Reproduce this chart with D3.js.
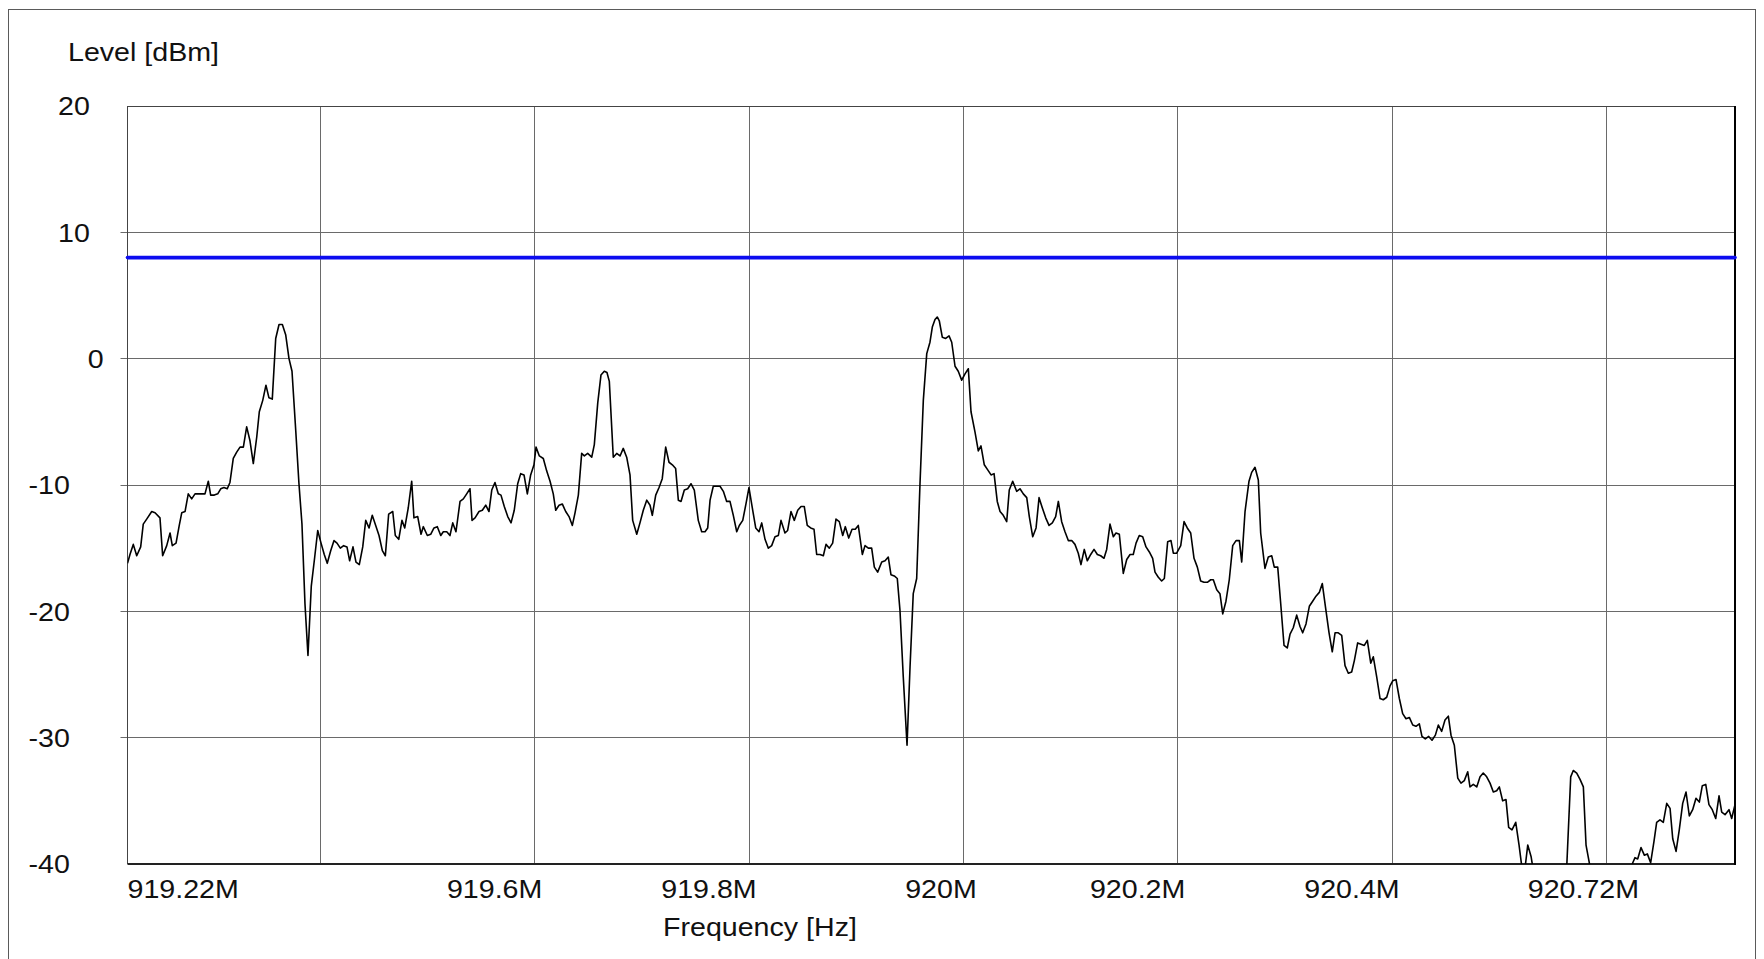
<!DOCTYPE html>
<html>
<head>
<meta charset="utf-8">
<title>Spectrum trace</title>
<script src="https://cdn.jsdelivr.net/npm/d3@7"></script>
<style>
  html, body { margin: 0; padding: 0; background: #ffffff; }
  svg { display: block; }
  text { font-family: "Liberation Sans", Arial, Helvetica, sans-serif; font-size: 26px; fill: #111111; }
</style>
</head>
<body>
<svg id="chart" width="1764" height="959"></svg>
<script>
// Measured spectrum trace: frequency (MHz) and level (dBm)
const freqMHz = [
  919.2200,919.2223,919.2254,919.2286,919.2323,919.2347,919.2379,919.2426,919.2457,919.2503,
  919.2528,919.2566,919.2597,919.2618,919.2653,919.2683,919.2706,919.2737,919.2767,919.2799,
  919.2830,919.2861,919.2892,919.2923,919.2954,919.2976,919.3010,919.3042,919.3070,919.3100,
  919.3131,919.3156,919.3187,919.3219,919.3250,919.3281,919.3312,919.3343,919.3374,919.3406,
  919.3430,919.3462,919.3492,919.3520,919.3551,919.3583,919.3614,919.3645,919.3676,919.3707,
  919.3735,919.3770,919.3800,919.3828,919.3856,919.3884,919.3915,919.3947,919.3975,919.4006,
  919.4036,919.4064,919.4096,919.4127,919.4155,919.4186,919.4217,919.4248,919.4273,919.4304,
  919.4332,919.4363,919.4395,919.4423,919.4454,919.4484,919.4516,919.4547,919.4578,919.4606,
  919.4637,919.4675,919.4699,919.4731,919.4761,919.4787,919.4820,919.4852,919.4873,919.4908,
  919.4939,919.4960,919.4998,919.5029,919.5060,919.5091,919.5123,919.5147,919.5179,919.5209,
  919.5235,919.5265,919.5303,919.5334,919.5365,919.5396,919.5415,919.5443,919.5480,919.5511,
  919.5543,919.5573,919.5599,919.5629,919.5660,919.5685,919.5716,919.5748,919.5779,919.5809,
  919.5841,919.5869,919.5900,919.5931,919.5962,919.5993,919.6012,919.6043,919.6080,919.6112,
  919.6143,919.6173,919.6196,919.6227,919.6257,919.6289,919.6320,919.6351,919.6376,919.6407,
  919.6438,919.6463,919.6494,919.6532,919.6556,919.6588,919.6618,919.6649,919.6674,919.6696,
  919.6733,919.6765,919.6796,919.6826,919.6858,919.6889,919.6914,919.6952,919.6982,919.7013,
  919.7045,919.7076,919.7097,919.7129,919.7160,919.7190,919.7222,919.7253,919.7284,919.7315,
  919.7340,919.7365,919.7396,919.7427,919.7458,919.7489,919.7526,919.7558,919.7589,919.7614,
  919.7636,919.7666,919.7698,919.7729,919.7760,919.7791,919.7822,919.7853,919.7885,919.7909,
  919.7941,919.7971,919.7999,919.8030,919.8062,919.8093,919.8118,919.8149,919.8180,919.8211,
  919.8242,919.8273,919.8298,919.8335,919.8360,919.8391,919.8422,919.8454,919.8485,919.8515,
  919.8543,919.8575,919.8606,919.8631,919.8662,919.8693,919.8718,919.8749,919.8780,919.8811,
  919.8842,919.8874,919.8898,919.8930,919.8961,919.8991,919.9019,919.9057,919.9082,919.9113,
  919.9144,919.9169,919.9200,919.9238,919.9269,919.9299,919.9324,919.9355,919.9383,919.9408,
  919.9439,919.9474,919.9502,919.9532,919.9564,919.9595,919.9626,919.9658,919.9688,919.9710,
  919.9735,919.9756,919.9775,919.9803,919.9835,919.9866,919.9891,919.9922,919.9952,919.9984,
  920.0015,920.0046,920.0071,920.0108,920.0139,920.0164,920.0195,920.0227,920.0258,920.0286,
  920.0316,920.0342,
  920.0372,920.0404,920.0428,920.0460,920.0497,920.0528,920.0559,920.0591,920.0615,920.0647,
  920.0678,920.0706,920.0736,920.0768,920.0799,920.0830,920.0861,920.0886,920.0917,920.0948,
  920.0979,920.1011,920.1041,920.1072,920.1097,920.1128,920.1156,920.1188,920.1219,920.1250,
  920.1281,920.1312,920.1337,920.1368,920.1399,920.1424,920.1455,920.1492,920.1524,920.1555,
  920.1585,920.1611,920.1641,920.1673,920.1704,920.1735,920.1766,920.1788,920.1819,920.1850,
  920.1875,920.1906,920.1937,920.1959,920.1990,920.2028,920.2059,920.2089,920.2121,920.2152,
  920.2183,920.2214,920.2245,920.2276,920.2308,920.2332,920.2364,920.2394,920.2420,920.2450,
  920.2481,920.2513,920.2544,920.2575,920.2597,920.2628,920.2665,920.2690,920.2721,920.2752,
  920.2774,920.2814,920.2845,920.2877,920.2901,920.2933,
  920.2961,920.2992,920.3022,920.3048,920.3078,920.3110,920.3141,920.3166,920.3197,920.3228,
  920.3259,920.3290,920.3321,920.3349,920.3381,920.3412,920.3442,920.3468,920.3498,920.3530,
  920.3561,920.3592,920.3623,920.3648,920.3679,920.3710,920.3741,920.3769,920.3801,920.3825,
  920.3857,920.3888,920.3918,920.3950,920.3981,920.4006,920.4037,920.4068,920.4099,920.4130,
  920.4161,920.4193,920.4223,920.4254,920.4279,920.4310,920.4342,920.4373,920.4404,920.4432,
  920.4463,920.4494,920.4525,920.4550,920.4581,920.4613,920.4643,920.4674,920.4706,920.4727,
  920.4758,920.4790,920.4821,920.4851,920.4883,920.4914,920.4945,920.4976,920.5001,920.5032,
  920.5063,920.5088,920.5119,920.5154,920.5185,920.5215,920.5241,920.5266,920.5297,920.5318,
  920.5381,920.5474,920.5567,920.5630,920.5667,920.5691,920.5723,920.5754,920.5785,920.5810,
  920.5847,920.5940,920.6080,920.6202,
  920.6246,920.6267,920.6292,920.6323,920.6354,920.6382,920.6413,920.6444,920.6469,920.6500,
  920.6531,920.6563,920.6594,920.6619,920.6650,920.6680,920.6712,920.6743,920.6774,920.6805,
  920.6836,920.6867,920.6895,920.6927,920.6957,920.6988,920.7020,920.7051,920.7076,920.7107,
  920.7144,920.7169,920.7200
];

const levelDbm = [
  -16.2,-15.5,-14.7,-15.6,-14.9,-13.1,-12.7,-12.1,-12.2,-12.6,
  -15.6,-14.8,-13.8,-14.8,-14.6,-13.2,-12.2,-12.1,-10.7,-11.1,
  -10.7,-10.7,-10.7,-10.7,-9.7,-10.8,-10.8,-10.7,-10.3,-10.2,
  -10.3,-9.8,-7.9,-7.4,-7.0,-7.0,-5.4,-6.5,-8.3,-6.2,
  -4.2,-3.3,-2.1,-3.1,-3.2,1.6,2.7,2.7,1.9,0.0,
  -1.0,-5.7,-9.9,-13.1,-19.4,-23.5,-18.0,-15.7,-13.6,-14.6,
  -15.5,-16.2,-15.2,-14.4,-14.6,-15.0,-14.8,-14.9,-16.0,-14.9,
  -16.1,-16.3,-14.9,-12.8,-13.4,-12.4,-13.2,-14.0,-15.2,-15.6,
  -12.3,-12.1,-14.0,-14.3,-12.8,-13.4,-11.8,-9.7,-12.6,-12.5,
  -13.9,-13.3,-14.0,-13.9,-13.4,-13.3,-14.0,-13.7,-13.7,-14.0,
  -13.0,-13.7,-11.3,-11.1,-10.7,-10.3,-12.8,-12.6,-12.1,-12.0,
  -11.6,-12.1,-10.4,-9.8,-10.7,-10.8,-11.7,-12.5,-13.0,-12.0,
  -9.9,-9.1,-9.2,-10.7,-9.2,-8.4,-7.0,-7.7,-7.9,-8.9,
  -9.7,-10.7,-12.0,-11.6,-11.5,-12.1,-12.5,-13.2,-12.2,-10.8,
  -7.5,-7.7,-7.5,-7.8,-6.8,-3.5,-1.3,-1.0,-1.1,-1.8,
  -7.8,-7.5,-7.7,-7.1,-7.8,-9.2,-12.8,-13.9,-13.0,-12.0,
  -11.2,-11.6,-12.4,-10.8,-10.2,-9.5,-7.0,-8.2,-8.4,-8.7,
  -11.2,-11.3,-10.4,-10.3,-9.9,-10.4,-12.8,-13.7,-13.7,-13.4,
  -11.2,-10.1,-10.1,-10.1,-10.5,-11.3,-11.3,-12.4,-13.7,-13.2,
  -12.8,-11.5,-10.2,-11.8,-13.4,-13.7,-13.0,-14.3,-15.0,-14.8,
  -14.1,-14.0,-12.8,-13.8,-13.6,-12.1,-12.8,-12.0,-11.7,-11.7,
  -13.2,-13.4,-13.5,-15.5,-15.5,-15.6,-14.7,-15.0,-14.6,-12.7,
  -12.9,-14.0,-13.3,-14.2,-13.5,-13.5,-13.2,-15.5,-14.8,-15.0,
  -15.0,-16.5,-16.9,-16.1,-16.0,-15.7,-17.1,-17.2,-17.4,-19.9,
  -25.2,-30.6,-24.4,-18.6,-17.4,-9.9,-3.3,0.4,1.3,2.5,
  3.1,3.3,3.0,1.7,1.6,1.8,1.3,-0.6,-1.0,-1.7,
  -1.2,-0.8,-4.2,-5.8,-7.3,-6.9,-8.4,-8.8,-9.2,-9.1,
  -11.3,-12.1,
  -12.4,-12.9,-10.4,-9.7,-10.5,-10.3,-10.7,-11.0,-12.5,-14.1,
  -13.4,-11.0,-11.8,-12.6,-13.2,-13.0,-12.5,-11.3,-12.9,-13.7,
  -14.4,-14.4,-14.7,-15.4,-16.3,-15.1,-16.0,-15.5,-15.1,-15.5,
  -15.6,-15.8,-15.1,-13.1,-14.1,-13.8,-13.9,-17.0,-15.9,-15.5,
  -15.5,-14.6,-14.0,-14.1,-14.9,-15.3,-15.8,-16.9,-17.3,-17.6,
  -17.4,-14.5,-14.4,-15.4,-15.4,-14.8,-12.9,-13.4,-13.8,-15.8,
  -16.5,-17.6,-17.7,-17.7,-17.5,-17.5,-18.3,-18.6,-20.2,-19.2,
  -17.5,-14.8,-14.4,-14.4,-16.1,-12.1,-9.7,-9.0,-8.6,-9.6,
  -13.8,-16.6,-15.7,-15.6,-16.5,-16.5,
  -19.4,-22.7,-22.9,-21.8,-21.3,-20.3,-21.2,-21.7,-21.0,-19.6,
  -19.2,-18.8,-18.5,-17.8,-19.8,-21.7,-23.2,-21.7,-21.7,-21.9,
  -24.3,-24.9,-24.8,-23.9,-22.5,-22.6,-22.7,-22.3,-24.1,-23.6,
  -25.2,-26.9,-27.0,-26.8,-25.9,-25.5,-25.4,-26.9,-28.1,-28.5,
  -28.4,-29.0,-29.1,-28.9,-29.9,-30.1,-29.9,-30.2,-29.8,-29.0,
  -29.5,-28.6,-28.3,-29.8,-30.6,-33.2,-33.6,-33.4,-32.7,-33.9,
  -33.7,-33.9,-33.1,-32.8,-33.1,-33.6,-34.3,-34.2,-33.9,-35.0,
  -34.9,-37.1,-37.3,-36.7,-38.5,-40.5,-40.3,-38.5,-39.4,-40.5,
  -42.0,-43.5,-42.5,-40.2,-33.1,-32.6,-32.8,-33.3,-33.9,-38.5,
  -40.2,-43.0,-44.0,-41.5,
  -39.9,-39.5,-39.6,-38.7,-39.3,-39.2,-39.9,-38.2,-36.7,-36.5,
  -36.7,-35.2,-35.6,-38.0,-39.0,-37.3,-35.2,-34.3,-36.2,-35.7,
  -34.8,-35.1,-33.8,-33.7,-35.3,-35.7,-36.4,-34.6,-35.9,-36.1,
  -35.7,-36.4,-35.3
];

// Axis ticks (frequency in MHz, level in dBm)
const xTickValues = [919.22, 919.4, 919.6, 919.8, 920.0, 920.2, 920.4, 920.6, 920.72];
const yTickValues = [20, 10, 0, -10, -20, -30, -40];

// Limit line level (dBm)
const limitDbm = [8];

const yTitle = "Level [dBm]";
const xTitle = "Frequency [Hz]";

// ---- layout ----
const plot = { left: 127.5, right: 1735, top: 106, bottom: 864 };
const FONT_STRETCH = 1.1;   // the labels use a slightly widened face
const CHAR_EST = 29.6;      // per-character width the label layout reserves

const svg = d3.select("#chart");

const x = d3.scaleLinear()
  .domain(d3.extent(xTickValues))
  .range([plot.left, plot.right]);

const y = d3.scaleLinear()
  .domain(d3.extent(yTickValues))
  .range([plot.bottom, plot.top]);

const crisp = v => Math.round(v - 0.5) + 0.5;

function label(parent, str, left, baseline) {
  return parent.append("text")
    .attr("transform", `translate(${left},${baseline}) scale(${FONT_STRETCH},1)`)
    .text(str);
}

// outer border
svg.append("rect")
  .attr("x", 8.5).attr("y", 9.5)
  .attr("width", 1747).attr("height", 980)
  .attr("fill", "none")
  .attr("stroke", "#5a5a5a")
  .attr("stroke-width", 1);

// grid
const grid = svg.append("g").attr("class", "grid")
  .attr("stroke", "#6a6a6a").attr("stroke-width", 1);

grid.selectAll("line.v")
  .data(xTickValues.slice(1, -1))
  .join("line")
  .attr("class", "v")
  .attr("x1", d => crisp(x(d))).attr("x2", d => crisp(x(d)))
  .attr("y1", plot.top).attr("y2", plot.bottom);

grid.selectAll("line.h")
  .data(yTickValues.slice(1, -1))
  .join("line")
  .attr("class", "h")
  .attr("x1", plot.left - 7).attr("x2", plot.right)
  .attr("y1", d => crisp(y(d))).attr("y2", d => crisp(y(d)));

// plot frame
const frame = svg.append("g").attr("fill", "none");
frame.append("line")
  .attr("x1", crisp(plot.left)).attr("x2", crisp(plot.left))
  .attr("y1", plot.top).attr("y2", plot.bottom)
  .attr("stroke", "#444").attr("stroke-width", 1);
frame.append("line")
  .attr("x1", plot.left).attr("x2", plot.right)
  .attr("y1", crisp(plot.top)).attr("y2", crisp(plot.top))
  .attr("stroke", "#444").attr("stroke-width", 1);
frame.append("line")
  .attr("x1", plot.left).attr("x2", plot.right + 1)
  .attr("y1", plot.bottom).attr("y2", plot.bottom)
  .attr("stroke", "#222").attr("stroke-width", 2);
frame.append("line")
  .attr("x1", plot.right).attr("x2", plot.right)
  .attr("y1", plot.top).attr("y2", plot.bottom + 1)
  .attr("stroke", "#000").attr("stroke-width", 2);

// trace, clipped to the plot area
svg.append("clipPath").attr("id", "plot-clip")
  .append("rect")
  .attr("x", plot.left).attr("y", plot.top)
  .attr("width", plot.right - plot.left).attr("height", plot.bottom - plot.top);

const trace = freqMHz.map((f, i) => ({ f, v: levelDbm[i] }));

const line = d3.line()
  .x(d => x(d.f))
  .y(d => y(d.v));

svg.append("path")
  .datum(trace)
  .attr("clip-path", "url(#plot-clip)")
  .attr("fill", "none")
  .attr("stroke", "#000")
  .attr("stroke-width", 1.6)
  .attr("stroke-linejoin", "round")
  .attr("d", line);

// limit line
svg.selectAll("line.limit")
  .data(limitDbm)
  .join("line")
  .attr("class", "limit")
  .attr("x1", plot.left).attr("x2", plot.right)
  .attr("y1", d => y(d)).attr("y2", d => y(d))
  .attr("stroke", "#0c0cf0")
  .attr("stroke-width", 3.6)
  .attr("stroke-linecap", "round");

// y tick labels: right edge reserved at a fixed width per character
const yLabels = svg.append("g");
yTickValues.forEach(v => {
  const s = String(v);
  label(yLabels, s, 117.3 - s.length * CHAR_EST, y(v) + 9.3);
});

// x tick labels: first flush left, last flush right, others centred;
// labels whose reserved box collides with a kept one are dropped
const fmtM = v => String(+v.toFixed(2)) + "M";
const xl = xTickValues.map((v, i) => {
  const s = fmtM(v);
  const w = s.length * CHAR_EST;
  let left;
  if (i === 0) left = plot.left;
  else if (i === xTickValues.length - 1) left = plot.right - w;
  else left = x(v) - w / 2 + 1;
  return { s, left, right: left + w, edge: i === 0 || i === xTickValues.length - 1 };
});
const kept = xl.filter(d => d.edge);
xl.filter(d => !d.edge).forEach(d => {
  if (kept.every(k => d.right <= k.left || d.left >= k.right)) kept.push(d);
});
const xLabels = svg.append("g");
kept.forEach(d => label(xLabels, d.s, d.left, 898));

// axis titles
label(svg, yTitle, 68, 61);
label(svg, xTitle, 663, 936);
</script>
</body>
</html>
